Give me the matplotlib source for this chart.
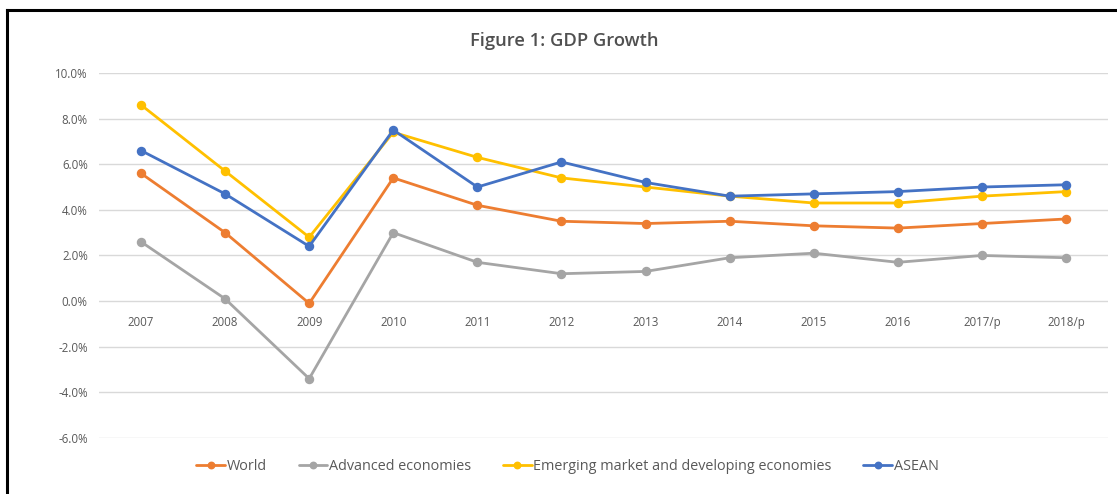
import matplotlib.pyplot as plt
from matplotlib.lines import Line2D
from matplotlib.ticker import FuncFormatter
import numpy as np

# categories and series (GDP growth, %)
years = ['2007', '2008', '2009', '2010', '2011', '2012', '2013', '2014',
         '2015', '2016', '2017/p', '2018/p']
world = [5.6, 3.0, -0.1, 5.4, 4.2, 3.5, 3.4, 3.5, 3.3, 3.2, 3.4, 3.6]
advanced = [2.6, 0.1, -3.4, 3.0, 1.7, 1.2, 1.3, 1.9, 2.1, 1.7, 2.0, 1.9]
emerging = [8.6, 5.7, 2.8, 7.4, 6.3, 5.4, 5.0, 4.6, 4.3, 4.3, 4.6, 4.8]
asean = [6.6, 4.7, 2.4, 7.5, 5.0, 6.1, 5.2, 4.6, 4.7, 4.8, 5.0, 5.1]

series = [('World', world, '#ED7D31'),
          ('Advanced economies', advanced, '#A5A5A5'),
          ('Emerging market and developing economies', emerging, '#FFC000'),
          ('ASEAN', asean, '#4472C4')]

plt.rcParams['font.family'] = ['Open Sans', 'DejaVu Sans']

fig = plt.figure(figsize=(11.17, 4.94), dpi=100)
ax = fig.add_axes([0.0886, 0.1134, 0.9034, 0.7389])

x = np.arange(len(years))
for name, vals, col in series:
    ax.plot(x, vals, color=col, linewidth=2.0, marker='o', markersize=5.8,
            label=name, solid_capstyle='round')

# axes styling (excel-like)
ax.set_xlim(-0.5, len(years) - 0.5)
ax.set_ylim(-6, 10)
ax.set_yticks(np.arange(-6, 10.1, 2))
ax.yaxis.set_major_formatter(FuncFormatter(lambda v, p: f'{v:.1f}%'))
ax.grid(axis='y', color='#D9D9D9', linewidth=1.0)
ax.set_axisbelow(True)
for s in ax.spines.values():
    s.set_visible(False)
ax.spines['bottom'].set_position(('data', 0))
ax.set_xticks(x)
ax.set_xticklabels(years)
ax.tick_params(axis='x', length=0, pad=11, labelsize=8.3, labelcolor='#595959')
ax.tick_params(axis='y', length=0, pad=8, labelsize=8.3, labelcolor='#595959')

# title
fig.text(0.505, 0.917, 'Figure 1: GDP Growth', ha='center', va='center',
         fontsize=13.2, fontweight='semibold', color='#505050')

# legend
fig.legend(loc='center', bbox_to_anchor=(0.508, 0.055), ncol=4, frameon=False,
           fontsize=10.4, labelcolor='#595959', handlelength=2.0,
           handletextpad=0.1, columnspacing=2.2, markerscale=0.8)

# black border at top and left
fig.add_artist(Line2D([0.0063, 1.0], [0.98, 0.98], color='black', linewidth=2.2,
                      transform=fig.transFigure))
fig.add_artist(Line2D([0.0063, 0.0063], [0.0, 0.98], color='black', linewidth=2.2,
                      transform=fig.transFigure))

fig.savefig('out.png', dpi=100)
